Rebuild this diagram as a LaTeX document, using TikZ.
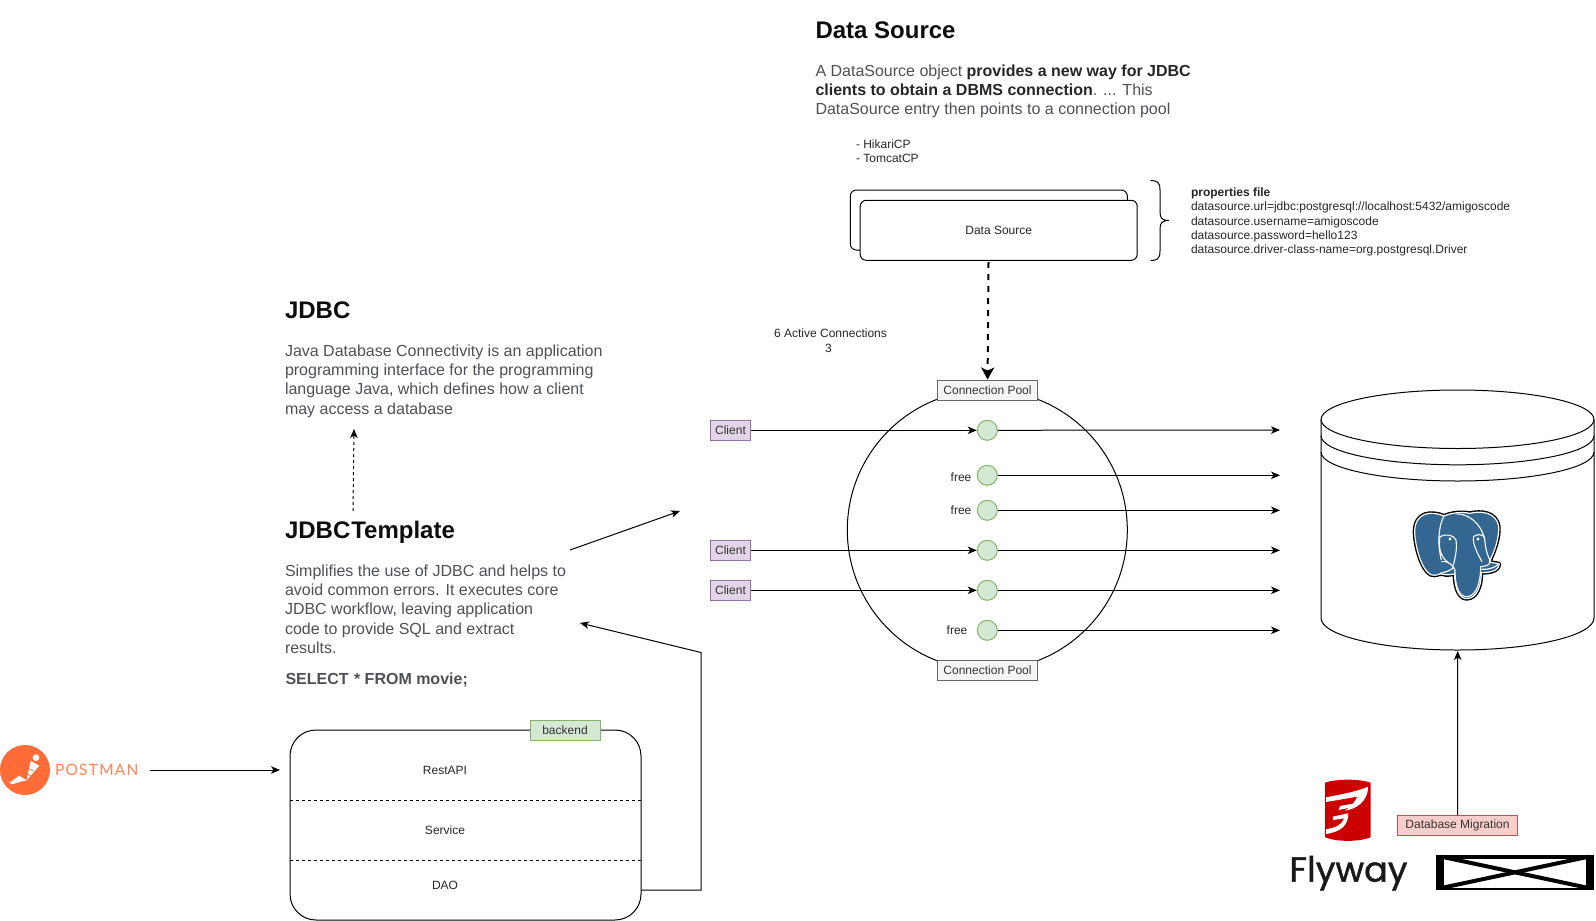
\documentclass[tikz,border=0pt]{standalone}
\usepackage{fontspec}
\setmainfont{Liberation Sans}
\newfontfamily\logofont{Lato}
\newfontfamily\flyfont[FakeBold=1.2]{Poppins}
\usepackage{xcolor}
\usepackage{tikz}
\usetikzlibrary{arrows.meta}

\definecolor{bodygrey}{HTML}{4D5156}
\definecolor{pgblue}{HTML}{336791}
\definecolor{postorange}{HTML}{FF6C37}
\definecolor{clientfill}{HTML}{E1D5E7}
\definecolor{clientdraw}{HTML}{9673A6}
\definecolor{greenfill}{HTML}{D5E8D4}
\definecolor{greendraw}{HTML}{82B366}
\definecolor{redfill}{HTML}{F8CECC}
\definecolor{reddraw}{HTML}{B85450}
\definecolor{poolfill}{HTML}{F5F5F5}
\definecolor{pooldraw}{HTML}{666666}

\newcommand{\elephantpath}{(612,438) .. controls (575,422) and (525,425) .. (524,485)
      .. controls (525,530) and (545,600) .. (572,614)
      .. controls (590,620) and (596,610) .. (606,612)
      .. controls (622,618) and (636,612) .. (644,612)
      .. controls (644,660) and (660,688) .. (682,686)
      .. controls (710,684) and (724,650) .. (724,608)
      .. controls (745,608) and (775,606) .. (778,582)
      .. controls (770,578) and (758,580) .. (748,576)
      .. controls (765,540) and (778,505) .. (776,470)
      .. controls (770,425) and (720,422) .. (690,430)
      .. controls (665,425) and (635,428) .. (612,438) -- cycle}

\begin{document}
\begin{tikzpicture}[x=1pt,y=-1pt,line width=1pt,
	>={Stealth[width=7.5pt,length=9pt,inset=2.5pt]},
    small/.style = {font=\fontsize{12}{14.3}\selectfont, inner sep=0pt, text=black!85},
    tagbox/.style = {rectangle, draw, small, minimum height=20.5pt, text=black!80},
    client/.style = {tagbox, minimum width=40pt, fill=clientfill, draw=clientdraw},
    pooltag/.style = {tagbox, minimum width=100pt, fill=poolfill, draw=pooldraw},
    conn/.style = {circle, draw=greendraw, fill=greenfill, minimum size=20pt, inner sep=0pt},
    slab/.style = {rectangle, rounded corners=6pt, draw, fill=white, minimum width=277pt, minimum height=60pt, small},
    heading/.style = {font=\fontsize{24}{28}\selectfont\bfseries, anchor=base west, inner sep=0pt, text=black!95},
    para/.style = {font=\fontsize{16}{19.2}\selectfont, anchor=north west, align=left, inner sep=0pt, text=bodygrey},
    note/.style = {small, anchor=north west, align=left}]
  \useasboundingbox (0,0) rectangle (1596,921);

  % left column
  \node (jdbc) [heading] at (284.5,318) {JDBC};
  \node (jdbctext) [para] at (284.5,342.6) {\strut Java Database Connectivity is an application\\programming interface for the programming\\language Java, which defines how a client\\may access a database};
  \node (tmpl) [heading] at (284.5,538.7) {JDBC\kern1ptTemplate};
  \node (tmpltext) [para] at (284.5,562.6) {\strut Simplifies the use of JDBC and helps to\\avoid common errors. It executes core\\JDBC workflow, leaving application\\code to provide SQL and extract\\results.};
  \node (query) [para, anchor=base west, font=\fontsize{16}{19.2}\selectfont\bfseries] at (285,684) {SELECT\kern1pt\ * FROM movie;};

  % backend
  \node (backend) [rectangle, rounded corners=26pt, draw, minimum width=351pt, minimum height=190pt, inner sep=0pt] at (465.5,825) {};
  \node (betag) [tagbox, minimum width=70pt, fill=greenfill, draw=greendraw] at (565,730.3) {backend};
  \node (api) [small] at (445,770) {RestAPI};
  \node (service) [small] at (445,830) {Service};
  \node (dao) [small] at (445,885) {DAO};
  \coordinate (sepa) at (290,800.7);
  \coordinate (sepb) at (641,800.7);
  \coordinate (sepc) at (290,860.7);
  \coordinate (sepd) at (641,860.7);
  \draw[dash pattern=on 3pt off 3pt] (sepa) -- (sepb);
  \draw[dash pattern=on 3pt off 3pt] (sepc) -- (sepd);

  % postman logo
  \fill[postorange] (25,770) circle (25);
  \begin{scope}[shift={(0,735)},x=0.3333pt,y=-0.3333pt]
    \fill[white] (108,68) circle (10);
    \fill[white] (92,78) -- (118,92) -- (80,136) -- (58,122) -- (28,143) -- (36,148) -- (62,140) -- (80,136) -- cycle;
    \draw[postorange,line width=0.7pt] (74,94) -- (100,108);
    \draw[postorange,line width=0.7pt] (66,106) -- (92,122);
  \end{scope}
  \node (postman) [anchor=west, inner sep=0pt, text=postorange!85!white, font=\logofont\fontsize{15.5}{18}\selectfont] at (54.5,770) {\addfontfeature{LetterSpace=8}POSTMAN};
  \coordinate (posout) at (150.4,770);
  \coordinate (posin) at (280,770);

  % data source
  \node (hikari) [note] at (855.5,138) {\strut- HikariCP\\- TomcatCP};
  \node (dsback) [slab] at (988.8,220) {};
  \node (dsfront) [slab] at (998.7,230.3) {Data Source};
  \draw (1150.5,180.5) .. controls (1157,180.5) and (1160,182) .. (1160,190) -- (1160,212) .. controls (1160,218) and (1162,220.5) .. (1169,220.5) .. controls (1162,220.5) and (1160,223) .. (1160,229) -- (1160,251) .. controls (1160,259) and (1157,260.5) .. (1150.5,260.5);
  \node (props) [note] at (1190.5,186) {\strut\textbf{properties file}\\datasource.url=jdbc:postgresql://localhost:5432/amigoscode\\datasource.username=amigoscode\\datasource.password=hello123\\datasource.driver-class-name=org.postgresql.Driver};
  \node (dstitle) [heading] at (815,38.3) {Data Source};
  \node (dstext) [para] at (815,62.3) {\strut A DataSource object \textcolor{black!85}{\textbf{provides a new way for JDBC}}\\\textcolor{black!85}{\textbf{clients to obtain a DBMS connection}}. ... This\\DataSource entry then points to a connection pool};
  \node (active) [small] at (830.5,333) {6 Active Connections};
  \node (three) [small] at (828.5,348) {3};

  % connection pool
  \node (pool) [circle, draw, minimum size=280pt, inner sep=0pt] at (987.3,530) {};
  \node (pooltop) [pooltag] at (987.5,390.3) {Connection Pool};
  \node (poolbot) [pooltag] at (987.5,670.3) {Connection Pool};
  \node (cona) [conn] at (987.3,430.3) {};
  \node (conb) [conn] at (987.3,475.3) {};
  \node (conc) [conn] at (987.3,510.3) {};
  \node (cond) [conn] at (987.3,550.3) {};
  \node (cone) [conn] at (987.3,590.3) {};
  \node (conf) [conn] at (987.3,630.3) {};
  \node (freeb) [small] at (961,477) {free};
  \node (freec) [small] at (961,510) {free};
  \node (freef) [small] at (957,630) {free};
  \node (clia) [client] at (730.5,430.3) {Client};
  \node (clid) [client] at (730.5,550.3) {Client};
  \node (clie) [client] at (730.5,590.3) {Client};
  \coordinate (enda) at (1280,430);
  \coordinate (endb) at (1280,475.3);
  \coordinate (endc) at (1280,510.3);
  \coordinate (endd) at (1280,550.3);
  \coordinate (ende) at (1280,590.3);
  \coordinate (endf) at (1280,630.3);

  % database
  \draw[fill=white] (1321,419.5) arc[start angle=180,end angle=0,x radius=136.5pt,y radius=29.5pt] -- (1594,618) arc[start angle=0,end angle=-180,x radius=136.5pt,y radius=32pt] -- cycle;
  \draw (1321,419.5) arc[start angle=180,end angle=360,x radius=136.5pt,y radius=29pt];
  \draw (1321,435.8) arc[start angle=180,end angle=360,x radius=136.5pt,y radius=29pt];
  \draw (1321,452) arc[start angle=180,end angle=360,x radius=136.5pt,y radius=29pt];
  \coordinate (dbbot) at (1457.7,651);

  % elephant
  \begin{scope}[shift={(1240,370)},x=0.3333pt,y=-0.3333pt]
    \path[draw=black,line width=4pt,line join=round] \elephantpath;
    \path[fill=pgblue,draw=white,line width=1.2pt,line join=round] \elephantpath;
    \begin{scope}[draw=white,line width=1.1pt,line join=round]
      \draw (612,438) .. controls (595,470) and (592,520) .. (604,570);
      \draw (604,575) .. controls (620,570) and (640,585) .. (645,600) .. controls (645,655) and (660,682) .. (682,680) .. controls (708,678) and (722,640) .. (722,590) .. controls (740,588) and (750,585) .. (750,575);
      \draw (650,432) .. controls (700,432) and (735,480) .. (736,525) .. controls (738,545) and (745,560) .. (752,575);
      \draw (600,500) .. controls (615,492) and (640,492) .. (648,510) .. controls (652,540) and (645,565) .. (640,585);
      \draw (600,500) .. controls (595,530) and (600,560) .. (625,578);
      \draw (700,500) .. controls (712,492) and (728,490) .. (735,505);
      \draw (700,500) .. controls (698,525) and (715,555) .. (726,575);
      \draw (600,610) .. controls (620,606) and (636,600) .. (642,590);
      \draw (724,598) .. controls (745,600) and (765,592) .. (774,584);
      \fill[white] (630,507) circle (5);
      \fill[white] (714,507) circle (5);
    \end{scope}
  \end{scope}

  % flyway logo
  \begin{scope}[shift={(1240,750)},x=0.3333pt,y=-0.3333pt]
    \fill[red!80!black] (255,98) .. controls (290,86) and (357,86) .. (392,98) -- (392,262) .. controls (357,276) and (290,276) .. (255,262) -- cycle;
    \fill[white] (258,142) .. controls (300,134) and (350,125) .. (384,110)
      .. controls (385,140) and (365,170) .. (325,180) -- (315,182)
      .. controls (335,168) and (345,155) .. (352,140) -- (258,156) -- cycle;
    \fill[white] (300,168) -- (344,160) -- (335,172) -- (296,180) -- cycle;
    \fill[white] (258,238) .. controls (290,232) and (305,225) .. (312,205) -- (280,210) -- (278,200) -- (325,190) .. controls (325,225) and (305,245) .. (258,252) -- cycle;
  \end{scope}
  \node (flyway) [anchor=base west, inner sep=0pt, font=\flyfont\fontsize{35}{40}\selectfont, text=black!90] at (1289,881.7) {Flyway};

  % missing image
  \begin{scope}[shift={(1240,750)},x=0.3333pt,y=-0.3333pt]
    \fill (588,315) rectangle (1062,419);
    \fill[white] (611,326) rectangle (1039,414);
    \draw[line width=4pt] (604,320) -- (1046,414);
    \draw[line width=4pt] (1046,320) -- (604,414);
  \end{scope}
  \node (migrate) [tagbox, minimum width=120pt, fill=redfill, draw=reddraw] at (1457.5,825.5) {Database Migration};

  \coordinate (upa) at (353,511);
  \coordinate (upb) at (354,429);
  \coordinate (outa) at (570,550);
  \coordinate (outb) at (680,511);
  \coordinate (daoa) at (641,890);
  \coordinate (daob) at (701,890);
  \coordinate (daoc) at (701,652.5);
  \coordinate (daod) at (580,623);
  \coordinate (dsout) at (988.5,262);

  \path[->]
    (clia) edge (cona)
    (clid) edge (cond)
    (clie) edge (cone)
    (cona) edge (enda)
    (conb) edge (endb)
    (conc) edge (endc)
    (cond) edge (endd)
    (cone) edge (ende)
    (conf) edge (endf)
    (posout) edge (posin)
    (outa) edge (outb)
    (migrate) edge (dbbot);
  \draw[->] (daoa) -- (daob) -- (daoc) -- (daod);
  \draw[->,dash pattern=on 3pt off 3pt] (upa) -- (upb);
  \draw[->,line width=2pt,dash pattern=on 6pt off 6pt,>={Stealth[width=13pt,length=12pt,inset=3pt]}] (dsout) -- (pooltop);
\end{tikzpicture}
\end{document}
